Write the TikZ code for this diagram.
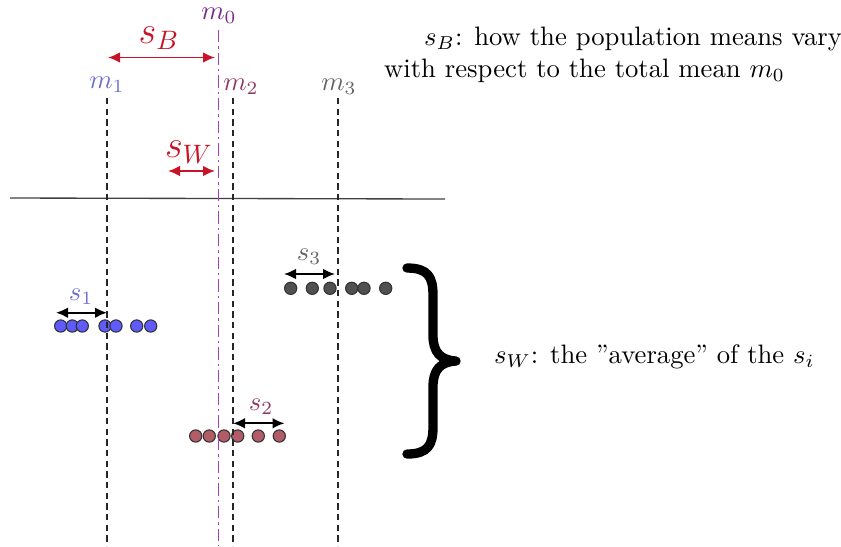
\documentclass[tikz,border=0pt]{standalone}
\usetikzlibrary{arrows.meta}
\definecolor{sred}{RGB}{200,20,40}
\definecolor{mblue}{RGB}{110,110,210}
\definecolor{dblue}{RGB}{95,90,250}
\definecolor{mmaroon}{RGB}{140,60,100}
\definecolor{dmaroon}{RGB}{178,92,104}
\definecolor{mgray}{RGB}{100,100,100}
\definecolor{dgray}{RGB}{80,80,80}
\definecolor{mpurple}{RGB}{120,40,140}
\definecolor{lpurple}{RGB}{170,60,190}
\begin{document}
\begin{tikzpicture}[x=0.375pt,y=-0.375pt,
  meanline/.style={black!85,dash pattern=on 2.4pt off 1.6pt,line width=0.5pt},
  totline/.style={lpurple,dash pattern=on 4.6pt off 1.5pt on 0.9pt off 1.5pt,line width=0.7pt},
  dotpt/.style={circle,draw=black!80,line width=0.4pt,minimum size=4.6pt,inner sep=0pt},
  sarrow/.style={{Latex[length=4.5pt,width=4pt]}-{Latex[length=4.5pt,width=4pt]},line width=0.7pt},
  lbl/.style={inner sep=1pt}]
\useasboundingbox (0,0) rectangle (841,546);
% dots
\foreach \x [count=\i] in {60.7,72.3,82.3,105,116,136.7,150.7}
  \node[dotpt,fill=dblue] (b\i) at (\x,326) {};
\foreach \x [count=\i] in {290.7,312.3,330,351.7,364,385.7}
  \node[dotpt,fill=dgray] (g\i) at (\x,288.3) {};
\foreach \x [count=\i] in {195.7,209.3,224,237.7,258.3,279.3}
  \node[dotpt,fill=dmaroon] (r\i) at (\x,436) {};
% axis
\coordinate (axl) at (10,198);
\coordinate (axr) at (445,199);
\draw[black!75,line width=0.5pt] (axl) -- (axr);
% mean lines
\coordinate (m1t) at (107,98); \coordinate (m1b) at (107,546);
\coordinate (m2t) at (233,98); \coordinate (m2b) at (233,546);
\coordinate (m3t) at (338,98); \coordinate (m3b) at (338,546);
\coordinate (m0t) at (218.5,30); \coordinate (m0b) at (218.5,546);
\draw[meanline] (m1t) -- (m1b);
\draw[meanline] (m2t) -- (m2b);
\draw[meanline] (m3t) -- (m3b);
\draw[totline] (m0t) -- (m0b);
% mean labels
\node[lbl,text=mpurple] (lm0) at (219,16) {$m_0$};
\node[lbl,text=mblue] (lm1) at (107,85) {$m_1$};
\node[lbl,text=mmaroon] (lm2) at (241,87) {$m_2$};
\node[lbl,text=mgray] (lm3) at (339,87) {$m_3$};
% sB, sW arrows
\coordinate (sBl) at (108,57.5); \coordinate (sBr) at (215,57.5);
\draw[sarrow,sred] (sBl) -- (sBr);
\node[lbl,text=sred,font=\Large] (lsB) at (159,38) {$s_B$};
\coordinate (sWl) at (168,171); \coordinate (sWr) at (215,171);
\draw[sarrow,sred] (sWl) -- (sWr);
\node[lbl,text=sred,font=\Large] (lsW) at (189,152) {$s_W$};
% s_i arrows
\coordinate (s1l) at (56,312.7); \coordinate (s1r) at (107,312.7);
\draw[sarrow,black] (s1l) -- (s1r);
\node[lbl,text=mblue] (ls1) at (81,297) {$s_1$};
\coordinate (s2l) at (233,423.3); \coordinate (s2r) at (284.5,423.3);
\draw[sarrow,black] (s2l) -- (s2r);
\node[lbl,text=mmaroon] (ls2) at (261,407) {$s_2$};
\coordinate (s3l) at (284,274); \coordinate (s3r) at (335,274);
\draw[sarrow,black] (s3l) -- (s3r);
\node[lbl,text=mgray] (ls3) at (309,257) {$s_3$};
% brace
\draw[line width=3.5pt,line cap=round,line join=round]
  (407,268) .. controls (428,268) and (433,277) .. (433,295)
  -- (433,335) .. controls (433,352) and (440,360) .. (456,361)
  .. controls (440,362) and (433,370) .. (433,387)
  -- (433,427) .. controls (433,445) and (428,454) .. (407,454);
% texts
\node[lbl,align=left,anchor=west] (tB) at (381,55)
  {\hspace*{15pt}$s_B$: how the population means vary\\with respect to the total mean $m_0$};
\node[lbl,anchor=west] (tW) at (491,357) {$s_W$: the "average" of the $s_i$};
\end{tikzpicture}
\end{document}
